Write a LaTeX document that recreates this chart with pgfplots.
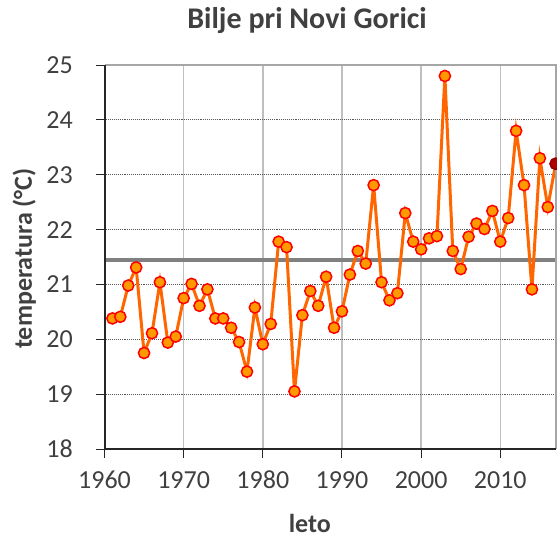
\documentclass[border=0pt]{standalone}
\usepackage{pgfplots}
\pgfplotsset{compat=1.18}
\usepackage{fontspec}
\setmainfont{Carlito}
\definecolor{txt}{HTML}{404040}
\definecolor{vgrid}{HTML}{BFBFBF}
\definecolor{hgrid}{HTML}{595959}
\definecolor{meanc}{HTML}{808080}
\definecolor{linec}{HTML}{FF6600}
\definecolor{mfill}{HTML}{FF9900}
\definecolor{lastfill}{HTML}{B00000}
\definecolor{lastdraw}{HTML}{900000}
\definecolor{boxgray}{HTML}{A6A6A6}
\begin{document}
\begin{tikzpicture}
\useasboundingbox (0,0) rectangle (557pt,539pt);
\begin{axis}[
  at={(104.5pt,90pt)}, anchor=south west,
  scale only axis, width=451.2pt, height=384pt,
  xmin=1960, xmax=2017, ymin=18, ymax=25,
  xtick={1960,1970,...,2010}, ytick={18,19,...,25},
  /pgf/number format/1000 sep={},
  /pgf/number format/assume math mode=true,
  tick pos=left, tick align=outside, major tick length=8.5pt,
  tick style={black!85, line width=1pt},
  axis line style={draw=none},
  xmajorgrids, ymajorgrids,
  x grid style={vgrid, line width=1.5pt},
  y grid style={hgrid, line width=0.9pt, densely dotted},
  ticklabel style={font=\fontsize{26}{31}\selectfont, color=txt, inner sep=0pt},
  yticklabel style={xshift=-23pt},
  xticklabel style={yshift=-13.5pt},
  clip=false,
  title={Bilje pri Novi Gorici},
  title style={at={(axis description cs:0.449,1.080)}, anchor=base, font=\bfseries\fontsize{30}{36}\selectfont, color=txt, inner sep=0pt},
  xlabel={leto},
  xlabel style={at={(axis description cs:0.455,-0.218)}, anchor=base, font=\bfseries\fontsize{26}{31}\selectfont, color=txt, inner sep=0pt},
  ylabel={temperatura (°C)},
  ylabel style={at={(axis description cs:-0.161,0.496)}, anchor=base, font=\bfseries\fontsize{26}{31}\selectfont, color=txt, inner sep=0pt},
]
\addplot[meanc, line width=4.3pt, no marks] coordinates {(1960,21.44) (2017,21.44)};
\addplot[linec, line width=3pt, mark=*, mark size=5.6pt, mark options={fill=mfill, draw=red, line width=1.5pt}] coordinates {
(1961,20.38) (1962,20.41) (1963,20.98) (1964,21.31) (1965,19.75) (1966,20.11)
(1967,21.04) (1968,19.94) (1969,20.05) (1970,20.75) (1971,21.01) (1972,20.61)
(1973,20.91) (1974,20.38) (1975,20.38) (1976,20.21) (1977,19.95) (1978,19.41)
(1979,20.58) (1980,19.91) (1981,20.28) (1982,21.78) (1983,21.68) (1984,19.05)
(1985,20.44) (1986,20.88) (1987,20.61) (1988,21.14) (1989,20.21) (1990,20.51)
(1991,21.18) (1992,21.61) (1993,21.38) (1994,22.81) (1995,21.04) (1996,20.71)
(1997,20.84) (1998,22.30) (1999,21.78) (2000,21.64) (2001,21.84) (2002,21.88)
(2003,24.80) (2004,21.61) (2005,21.28) (2006,21.87) (2007,22.11) (2008,22.01)
(2009,22.34) (2010,21.78) (2011,22.21) (2012,23.80) (2013,22.81) (2014,20.91)
(2015,23.30) (2016,22.41) (2017,23.20)
};
\addplot[only marks, mark=*, mark size=5.6pt, mark options={fill=lastfill, draw=lastdraw, line width=1.5pt}] coordinates {(2017,23.20)};
\draw[boxgray, line width=2pt] (rel axis cs:0,1) -- (rel axis cs:1,1) -- (rel axis cs:1,0);
\draw[black!85, line width=2pt] (rel axis cs:0,1) -- (rel axis cs:0,0) -- (rel axis cs:1,0);
\end{axis}
\end{tikzpicture}
\end{document}
